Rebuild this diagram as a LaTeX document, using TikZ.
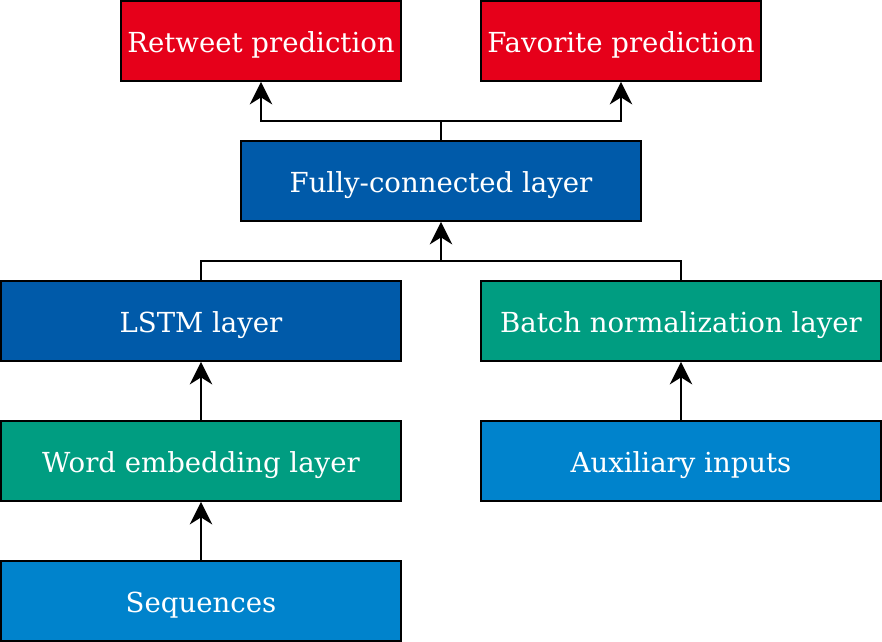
\documentclass[tikz,border=0pt]{standalone}
\usepackage{fontspec}
\setmainfont{DejaVu Serif}
\usetikzlibrary{arrows.meta}
\definecolor{tudred}{HTML}{E6001A}
\definecolor{tuddarkblue}{HTML}{005AA9}
\definecolor{tudblue}{HTML}{0083CC}
\definecolor{tudgreen}{HTML}{009D81}
\tikzset{
    layer/.style={draw=black, line width=1.3pt, minimum height=2cm, minimum width=10cm,
        text=white, font=\fontsize{19.6}{22}\selectfont, inner sep=0pt,
        text height=17pt, text depth=0pt},
    arr/.style={-{Stealth[length=16pt,width=16pt,inset=5pt]}, line width=1.3pt}
}
\begin{document}
\begin{tikzpicture}[x=0.025cm,y=-0.025cm]
    \useasboundingbox (0,0) rectangle (882,642);
    % layers
    \node [layer, fill=tudred, minimum width=7cm] (retweet) at (261,41) {Retweet prediction};
    \node [layer, fill=tudred, minimum width=7cm] (favorite) at (621,41) {Favorite prediction};
    \node [layer, fill=tuddarkblue] (dense) at (441,181) {Fully-connected layer};
    \node [layer, fill=tuddarkblue] (lstm) at (201,321) {LSTM layer};
    \node [layer, fill=tudgreen] (batchnorm) at (681,321) {Batch normalization layer};
    \node [layer, fill=tudgreen] (embedding) at (201,461) {Word embedding layer};
    \node [layer, fill=tudblue] (auxiliary) at (681,461) {Auxiliary inputs};
    \node [layer, fill=tudblue] (sequences) at (201,601) {Sequences};
    % connectors
    \coordinate (split) at (441,121);
    \coordinate (merge) at (441,261);
    \draw [line width=1.3pt] (dense.north) -- (split);
    \draw [arr] (split) -| (retweet.south);
    \draw [arr] (split) -| (favorite.south);
    \draw [line width=1.3pt] (lstm.north) |- (merge) -| (batchnorm.north);
    \draw [arr] (merge) -- (dense.south);
    \draw [arr] (embedding.north) -- (lstm.south);
    \draw [arr] (sequences.north) -- (embedding.south);
    \draw [arr] (auxiliary.north) -- (batchnorm.south);
\end{tikzpicture}
\end{document}
